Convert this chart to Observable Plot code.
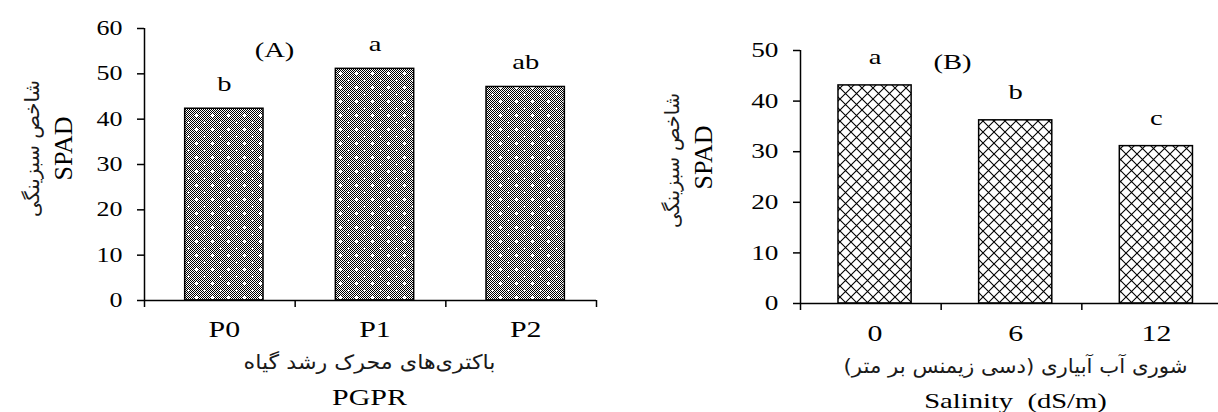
<!DOCTYPE html>
<html><head><meta charset="utf-8">
<script src="https://cdn.jsdelivr.net/npm/d3@7"></script>
<script src="https://cdn.jsdelivr.net/npm/@observablehq/plot@0.6"></script>
<style>
html,body{margin:0;padding:0;background:#fff;}
#wrap{display:flex;width:1218px;height:412px;overflow:hidden}
#wrap svg{flex:0 0 auto;max-width:none}
</style></head><body><div id="wrap"></div>
<script>
const pgprCategories = ["P0", "P1", "P2"];
const pgprSpad = [42.3, 51.1, 47.1];
const pgprLetters = ["b", "a", "ab"];
const pgprYTicks = [0, 10, 20, 30, 40, 50, 60];

const salinityCategories = ["0", "6", "12"];
const salinitySpad = [43.1, 36.2, 31.1];
const salinityLetters = ["a", "b", "c"];
const salinityYTicks = [0, 10, 20, 30, 40, 50];

const yTitleFa = "شاخص سبزینگی";
const yTitleEn = "SPAD";
const pgprTitleFa = "باکتری‌های محرک رشد گیاه";
const pgprTitleEn = "PGPR";
const salinityTitleFa = "شوری آب آبیاری (دسی زیمنس بر متر)";
const salinityTitleEn = "Salinity\u00A0 (dS/m)";

const RLM = "\u200F";
const serif = "'Liberation Serif', 'Times New Roman', serif";
const faFont = "'DejaVu Sans', sans-serif";

function defsMark(id, kind) {
  return () => {
    const defs = d3.create("svg:defs");
    if (kind === "dots") {
      const p = defs.append("pattern").attr("id", id).attr("patternUnits", "userSpaceOnUse").attr("width", 16).attr("height", 14);
      p.append("rect").attr("width", 16).attr("height", 14).attr("fill", "#fff");
      let d = "";
      for (let y = 0; y < 14; y++) for (let x = 0; x < 16; x++) if ((x + y) % 2 === 0) d += `M${x},${y}h1v1h-1z`;
      p.append("path").attr("d", d).attr("fill", "#000");
      p.append("path").attr("d", "M4,2h1v1h1v1h-1v1h-1v-1h-1v-1h1z M12,9h1v1h1v1h-1v1h-1v-1h-1v-1h1z").attr("fill", "#fff");
    } else {
      const p = defs.append("pattern").attr("id", id).attr("patternUnits", "userSpaceOnUse").attr("width", 11).attr("height", 11);
      p.append("rect").attr("width", 11).attr("height", 11).attr("fill", "#fff");
      p.append("path").attr("d", "M-2,-2L13,13M13,-2L-2,13").attr("stroke", "#000").attr("stroke-width", 1.1).attr("fill", "none");
    }
    return defs.node();
  };
}

function finishText(svg, s, lengths) {
  d3.select(svg).selectAll("text").each(function () {
    const t = this.textContent;
    const tr = this.getAttribute("transform") || "";
    if (!t) return;
    if (/[\u0600-\u06FF]/.test(t)) {
      const key = t.replace(/\u200F/g, "");
      if (lengths[key]) {
        this.setAttribute("textLength", lengths[key]);
        this.setAttribute("lengthAdjust", "spacingAndGlyphs");
      }
      return;
    }
    if (/rotate/.test(tr)) return;
    if (tr) this.setAttribute("transform", tr + ` scale(${s},1)`);
    else {
      const x = +this.getAttribute("x") || 0;
      this.setAttribute("transform", `translate(${x},0) scale(${s},1) translate(${-x},0)`);
    }
  });
}

function panel(o) {
  const data = o.cats.map((c, i) => ({i, cat: c, v: o.vals[i], letter: o.letters[i]}));
  const svg = Plot.plot({
    width: o.width, height: 412,
    marginLeft: o.ml, marginRight: o.mr, marginTop: o.mt, marginBottom: o.mb,
    style: {fontFamily: serif, color: "#000", background: "#fff", overflow: "visible"},
    x: {domain: [0, 3], range: o.xRange, label: null},
    y: {domain: [0, o.yMax], label: null},
    marks: [
      defsMark(o.patternId, o.pattern),
      Plot.rectY(data, {x1: d => d.i + 0.27, x2: d => d.i + 0.79, y: "v", fill: `url(#${o.patternId})`, stroke: "#000", strokeWidth: 1.5}),
      Plot.ruleX([0], {stroke: "#000", strokeWidth: 1.5}),
      Plot.ruleY([0], {stroke: "#000", strokeWidth: 1.5}),
      Plot.axisY({ticks: o.yTicks, tickSize: 7, tickPadding: 15, fontSize: o.yFont, strokeWidth: 1.5, label: null, tickFormat: d => String(d)}),
      Plot.axisX({ticks: [0, 1, 2, 3], tickSize: 7, tickFormat: () => "", strokeWidth: 1.5, label: null}),
      Plot.text(data, {x: d => d.i + 0.53, y: 0, text: "cat", dy: o.catDy, fontSize: 23, lineAnchor: "middle"}),
      Plot.text(data, {x: d => d.i + 0.53, y: "v", text: "letter", lineAnchor: "bottom", dy: o.letterDy, fontSize: 22}),
      Plot.text([o.tag], {frameAnchor: "top-left", dx: o.tagDx, dy: o.tagDy, fontSize: 22, textAnchor: "middle", lineAnchor: "middle"}),
      Plot.text([RLM + yTitleFa + RLM], {frameAnchor: "left", dx: o.yFaDx, dy: o.yFaDy, rotate: -90, fontFamily: faFont, fontSize: 20, textAnchor: "middle", lineAnchor: "middle", fill: "#1a1a1a"}),
      Plot.text([yTitleEn], {frameAnchor: "left", dx: o.yEnDx, dy: o.yEnDy, rotate: -90, fontSize: 26, textAnchor: "middle", lineAnchor: "middle"}),
      Plot.text([RLM + o.xFa + RLM], {frameAnchor: "bottom", dx: o.xDx, dy: o.xFaDy, fontFamily: faFont, fontSize: 20, textAnchor: "middle", lineAnchor: "middle", fill: "#1a1a1a"}),
      Plot.text([o.xEn], {frameAnchor: "bottom", dx: o.xDx, dy: o.xEnDy, fontSize: o.xEnFont, textAnchor: "middle", lineAnchor: "middle"})
    ]
  });
  finishText(svg, 1.3, {[yTitleFa]: o.yFaLen, [o.xFa]: o.xFaLen});
  return svg;
}

const wrap = document.getElementById("wrap");
wrap.append(panel({
  cats: pgprCategories, vals: pgprSpad, letters: pgprLetters, yTicks: pgprYTicks, yMax: 60,
  width: 620, ml: 144, mr: 24, mt: 28, mb: 112, xRange: [144, 596], yFont: 20,
  patternId: "dotsA", pattern: "dots", catDy: 29, letterDy: -18,
  tag: "(A)", tagDx: 130, tagDy: 21,
  yFaDx: -112, yFaDy: -16, yEnDx: -81, yEnDy: -16, yFaLen: 137,
  xFa: pgprTitleFa, xEn: pgprTitleEn, xDx: -1, xFaDy: 62, xEnDy: 97, xEnFont: 23, xFaLen: 252
}));
wrap.append(panel({
  cats: salinityCategories, vals: salinitySpad, letters: salinityLetters, yTicks: salinityYTicks, yMax: 50,
  width: 598, ml: 180, mr: 0, mt: 50, mb: 109, xRange: [180, 602], yFont: 21,
  patternId: "crossB", pattern: "cross", catDy: 30, letterDy: -21,
  tag: "(B)", tagDx: 152, tagDy: 11.5,
  yFaDx: -128, yFaDy: -16.5, yEnDx: -97, yEnDy: -19.5, yFaLen: 135,
  xFa: salinityTitleFa, xEn: salinityTitleEn, xDx: 6, xFaDy: 63, xEnDy: 97, xEnFont: 22, xFaLen: 344
}));
</script>
</body></html>
